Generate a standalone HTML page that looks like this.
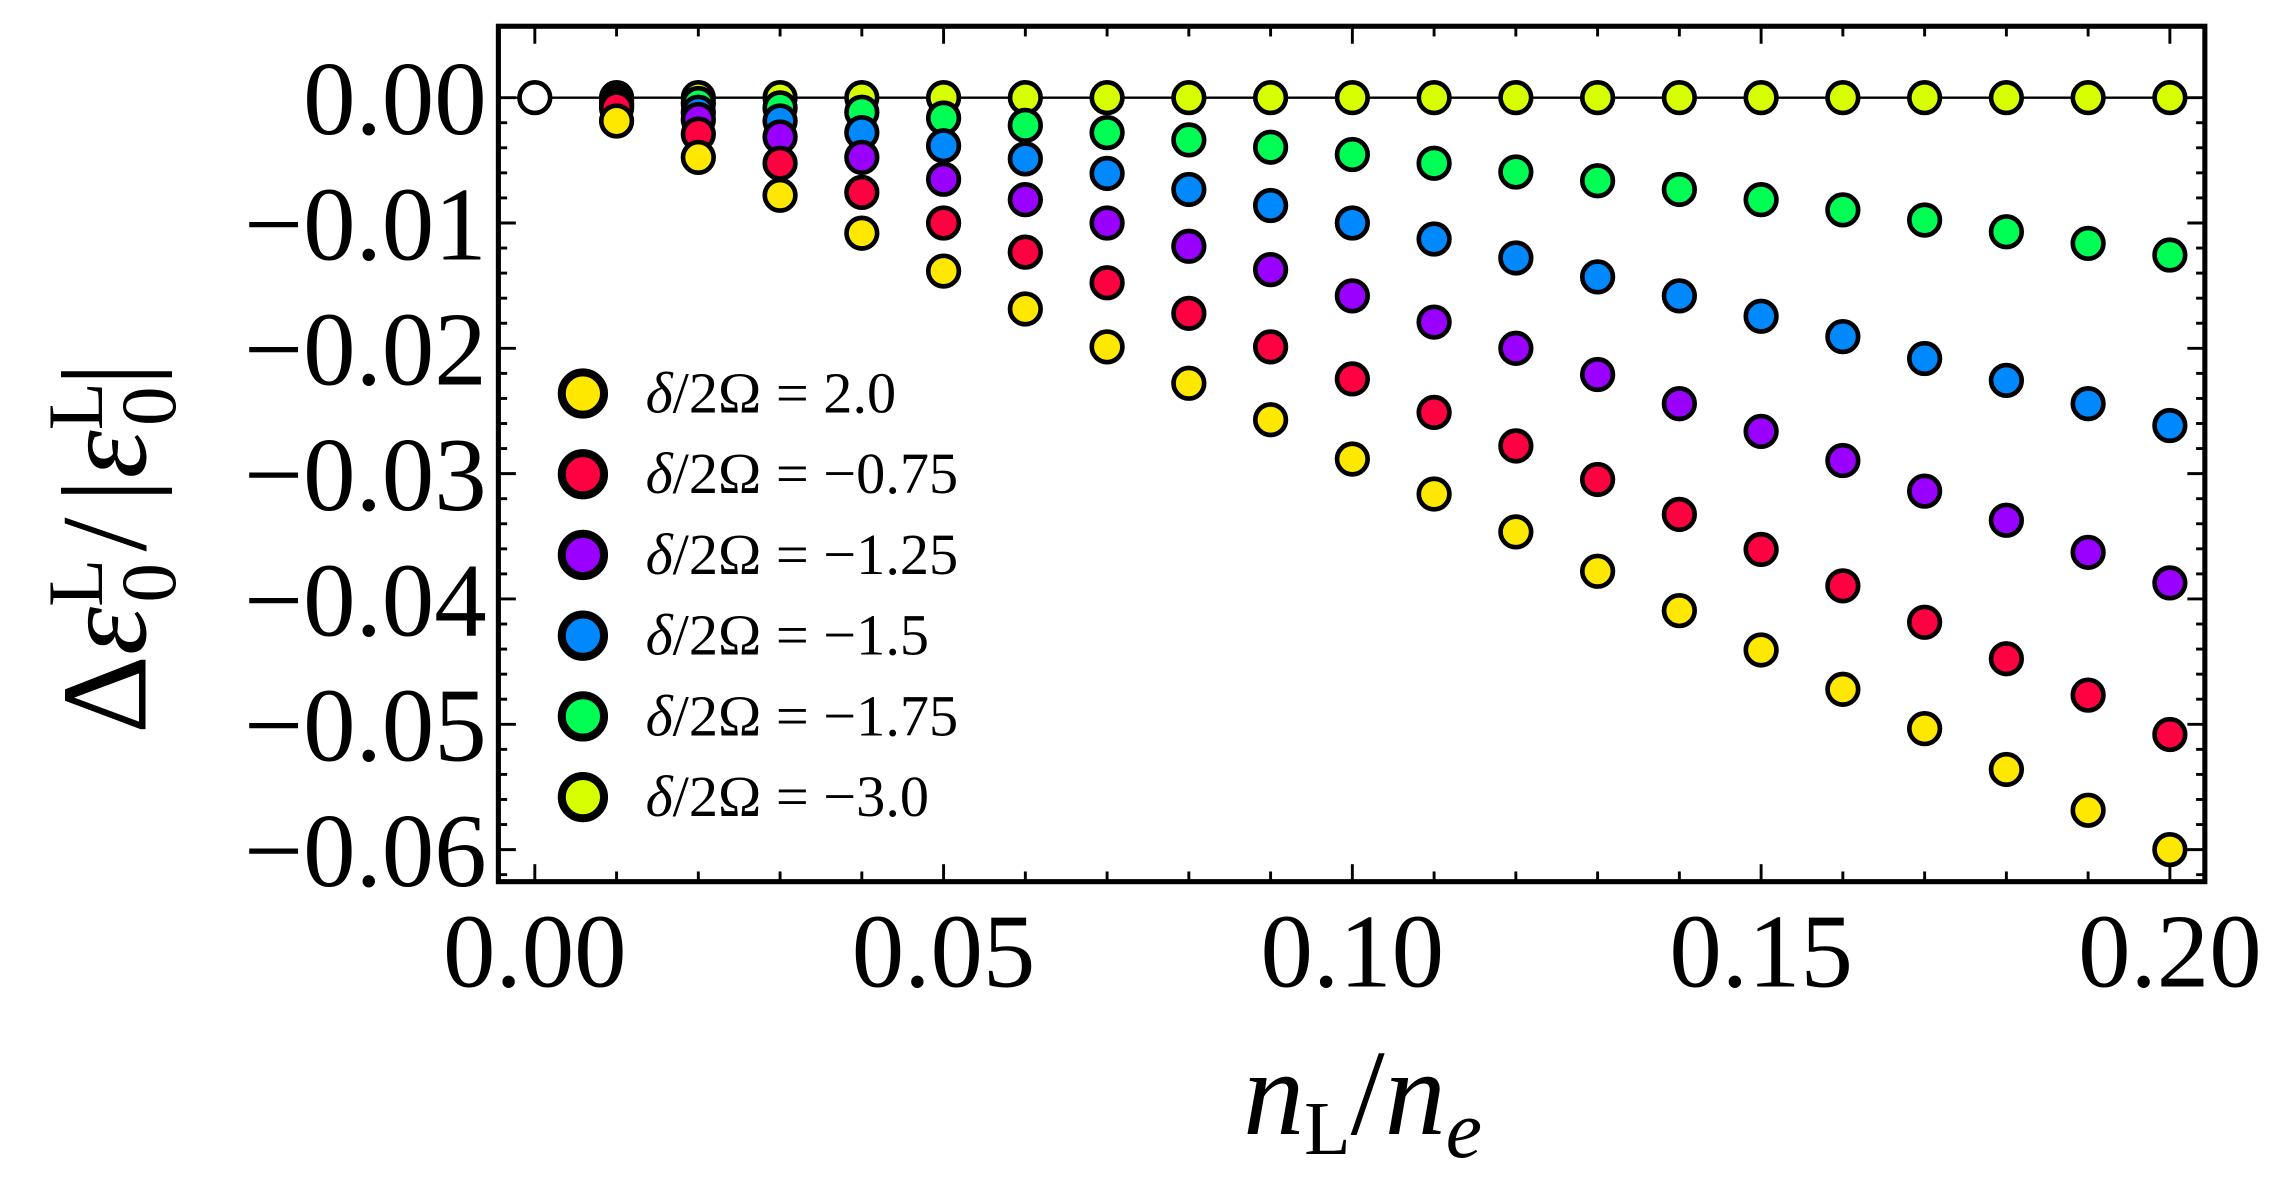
<!DOCTYPE html>
<html><head><meta charset="utf-8"><style>html,body{margin:0;padding:0;background:#fff}svg{display:block}</style></head>
<body>
<svg width="2285" height="1195" viewBox="0 0 1568 820" xmlns="http://www.w3.org/2000/svg" font-family="Liberation Serif, serif">
<rect width="1568" height="820" fill="#fff"/>
<line x1="342" y1="67" x2="1513" y2="67" stroke="#000" stroke-width="1.6"/>
<g id="ticks" stroke="#000" stroke-width="2"></g>
<g id="pts" stroke="#000" stroke-width="3.2"></g>
<circle cx="367" cy="67" r="10.5" fill="#fff" stroke="#000" stroke-width="3.2"/>
<rect x="342" y="18" width="1171" height="587" fill="none" stroke="#000" stroke-width="3.5"/>
<g font-size="72" text-anchor="end" id="ylab"></g>
<g font-size="72" text-anchor="middle" id="xlab"></g>
<g id="leg"></g>
<text x="935" y="778" font-size="84" text-anchor="middle" font-style="italic">n<tspan font-style="normal" font-size="52" dy="14">L</tspan><tspan dy="-14" font-style="normal">/</tspan>n<tspan font-size="56" dy="16">e</tspan></text>
<text transform="translate(100,376) rotate(-90)" font-size="84" text-anchor="middle">Δ<tspan font-style="italic">ε</tspan><tspan font-size="54" dy="-30">L</tspan><tspan font-size="54" dx="-30" dy="50">0</tspan><tspan dy="-20" dx="8">/</tspan><tspan dx="10">|</tspan><tspan font-style="italic">ε</tspan><tspan font-size="54" dy="-30">L</tspan><tspan font-size="54" dx="-30" dy="50">0</tspan><tspan dy="-20">|</tspan></text>
<script>
const NS="http://www.w3.org/2000/svg";
function el(p,t,a,txt){const e=document.createElementNS(NS,t);for(const k in a)e.setAttribute(k,a[k]);if(txt!=null)e.textContent=txt;p.appendChild(e);return e;}
const X=v=>367+v*5610, Y=v=>67-v*8600;
const tk=document.getElementById('ticks');
for(let i=0;i<=20;i++){const x=X(i*0.01),L=i%5==0?12:7;el(tk,'line',{x1:x,y1:605,x2:x,y2:605-L});el(tk,'line',{x1:x,y1:18,x2:x,y2:18+L});}
for(let i=0;i<=32;i++){const y=Y(-i*0.002);if(y>605||y<18)continue;const L=i%5==0?12:6;el(tk,'line',{x1:342,y1:y,x2:342+L,y2:y});el(tk,'line',{x1:1513,y1:y,x2:1513-L,y2:y});}
const yl=document.getElementById('ylab');
for(let i=0;i<=6;i++){el(yl,'text',{x:334,y:Y(-i*0.01)+25},(i?'−':'')+'0.0'+i);}
const xl=document.getElementById('xlab');
['0.00','0.05','0.10','0.15','0.20'].forEach((s,i)=>el(xl,'text',{x:X(i*0.05),y:677},s));
const data={
'#D8FF00':Array(20).fill(67),
'#00FF55':[69,71,74,77,81,86,91,96,101,106,112,118,124,130,137,144,151,159,167,175],
'#0088FF':[71,77,83,91,100,109,119,130,141,153,164,177,190,203,217,231,246,261,277,292],
'#9900FF':[72,82,94,108,123,137,153,169,185,203,221,239,257,277,296,316,337,357,379,400],
'#FF0040':[74,92,112,132,153,173,194,215,238,260,283,306,329,353,377,402,427,452,477,504],
'#FFE800':[83,108,134,160,186,212,238,263,288,315,339,365,392,419,446,473,500,528,556,583]};
const pg=document.getElementById('pts');
for(const c in data){data[c].forEach((y,i)=>el(pg,'circle',{cx:X((i+1)*0.01),cy:y,r:10.5,fill:c}));}
const lg=document.getElementById('leg');
[['#FFE800','2.0'],['#FF0040','−0.75'],['#9900FF','−1.25'],['#0088FF','−1.5'],['#00FF55','−1.75'],['#D8FF00','−3.0']].forEach((d,i)=>{
const y=270+i*55.4;el(lg,'circle',{cx:400,cy:y,r:14.5,fill:d[0],stroke:'#000','stroke-width':5.5});
const t=el(lg,'text',{x:443,y:y+13,'font-size':40});
el(t,'tspan',{'font-style':'italic'},'δ');el(t,'tspan',{},'/2Ω = '+d[1]);});
</script>
</svg>
</body></html>
